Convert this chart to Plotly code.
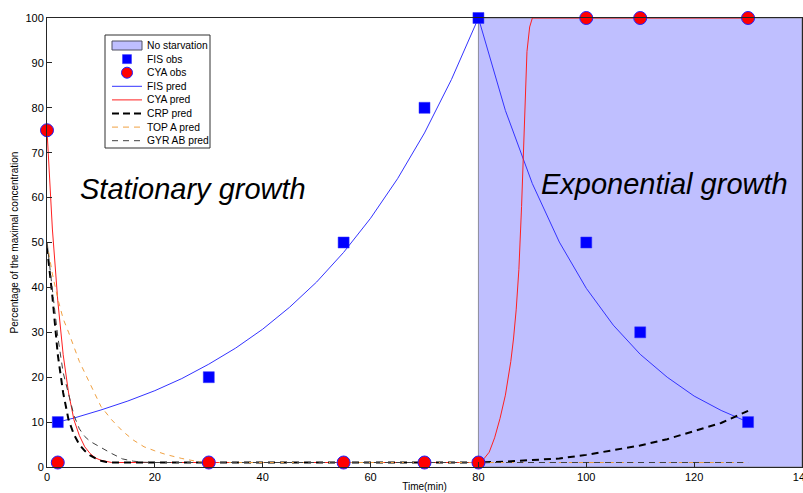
import plotly.graph_objects as go

# ---- data ----
shade_x = [80, 140, 140, 80, 80]
shade_y = [0, 0, 100, 100, 0]

fis_obs_x = [2, 30, 55, 70, 80, 100, 110, 130]
fis_obs_y = [10, 20, 50, 80, 100, 50, 30, 10]

cya_obs_x = [0, 2, 30, 55, 70, 80, 100, 110, 130]
cya_obs_y = [75, 1, 1, 1, 1, 1, 100, 100, 100]

fis_pred_x = [2, 5, 10, 15, 20, 25, 30, 35, 40, 45, 50, 55, 60, 65, 70, 75, 80,
              85, 90, 95, 100, 105, 110, 115, 120, 125, 130]
fis_pred_y = [10, 10.9, 12.7, 14.7, 17.0, 19.7, 22.9, 26.5, 30.7, 35.6, 41.2, 47.8, 55.4, 64.2, 74.4, 86.3, 100,
              79.4, 63.1, 50.1, 39.8, 31.6, 25.1, 20.0, 15.8, 12.6, 10]

cya_pred_x = [0, 1, 2, 3, 4, 5, 6, 7, 8, 9, 10, 12, 80, 81, 82, 83, 84, 85, 86, 86.5, 87,
              87.5, 88, 88.5, 89, 89.5, 90, 130]
cya_pred_y = [75, 53, 37, 25, 16.5, 10.5, 7, 4.5, 3, 2, 1.5, 1.0, 1.0, 1.8, 3.3, 6.5, 10.8, 16, 23.5, 28.5, 35,
              44, 58, 76, 92.5, 98, 100, 100]

crp_pred_x = [0, 1, 2, 3, 4, 5, 6, 7, 8, 9, 10, 11, 12, 80, 85, 90, 95, 100, 105, 110, 115, 120, 125, 130]
crp_pred_y = [49, 38, 25, 16.5, 10.5, 7.2, 5, 3.6, 2.6, 1.9, 1.4, 1.1, 1.0, 1.0, 1.2, 1.5, 1.9, 2.7, 3.7, 4.8, 6.2, 8.0, 9.8, 12.5]

topa_pred_x = [0, 1, 2, 3, 4, 5, 6, 7, 8, 10, 12, 14, 16, 18, 20, 22, 25, 28, 30, 130]
topa_pred_y = [50, 43, 37.5, 33, 30, 26.5, 23.5, 21, 18.5, 13.5, 10.5, 8, 6, 4.5, 3.6, 2.8, 1.9, 1.2, 1.0, 1.0]

gyr_pred_x = [0, 1, 2, 3, 4, 5, 6, 7, 8, 9, 10, 12, 14, 16, 18, 20, 130]
gyr_pred_y = [50, 40, 29, 21, 16, 11.5, 8.5, 6.8, 5.7, 5.0, 4.4, 3.0, 1.8, 1.3, 1.05, 1.0, 1.0]

x_ticks = [0, 20, 40, 60, 80, 100, 120, 140]
y_ticks = [0, 10, 20, 30, 40, 50, 60, 70, 80, 90, 100]

legend_labels = ["No starvation", "FIS obs", "CYA obs", "FIS pred", "CYA pred",
                 "CRP pred", "TOP A pred", "GYR AB pred"]

FONT = "Liberation Sans, Arial, sans-serif"

# styles
C_SHADE = "#bfbfff"
C_SHADE_EDGE = "#8c8c9c"
C_FIS = "#3333ff"
C_CYA = "#ff2020"
C_TOPA = "#f0a040"
C_GYR = "#404040"

fig = go.Figure()

fig.add_trace(go.Scatter(x=shade_x, y=shade_y, fill="toself", fillcolor=C_SHADE,
                         line=dict(color=C_SHADE_EDGE, width=1), mode="lines",
                         name=legend_labels[0], hoverinfo="skip"))
fig.add_trace(go.Scatter(x=fis_pred_x, y=fis_pred_y, mode="lines",
                         line=dict(color=C_FIS, width=1), name=legend_labels[3]))
fig.add_trace(go.Scatter(x=cya_pred_x, y=cya_pred_y, mode="lines",
                         line=dict(color=C_CYA, width=1), name=legend_labels[4]))
fig.add_trace(go.Scatter(x=crp_pred_x, y=crp_pred_y, mode="lines",
                         line=dict(color="black", width=2, dash="7px,5px"), name=legend_labels[5]))
fig.add_trace(go.Scatter(x=topa_pred_x, y=topa_pred_y, mode="lines",
                         line=dict(color=C_TOPA, width=1, dash="5px,5px"), name=legend_labels[6]))
fig.add_trace(go.Scatter(x=gyr_pred_x, y=gyr_pred_y, mode="lines",
                         line=dict(color=C_GYR, width=1, dash="6px,5px"), name=legend_labels[7]))
fig.add_trace(go.Scatter(x=fis_obs_x, y=fis_obs_y, mode="markers", cliponaxis=False,
                         marker=dict(symbol="square", size=11, color="#0000ff",
                                     line=dict(color="#3030ff", width=0.5)),
                         name=legend_labels[1]))
fig.add_trace(go.Scatter(x=cya_obs_x, y=cya_obs_y, mode="markers", cliponaxis=False,
                         marker=dict(symbol="circle", size=13, color="#ff0000",
                                     line=dict(color="#2020ff", width=1)),
                         name=legend_labels[2]))

fig.add_annotation(x=27, y=62, xref="x", yref="y", text="Stationary growth", showarrow=False,
                   font=dict(family=FONT, size=29, color="black", style="italic"))
fig.add_annotation(x=114.5, y=63, xref="x", yref="y", text="Exponential growth", showarrow=False,
                   font=dict(family=FONT, size=29, color="black", style="italic"))

# ---- compact MATLAB-style legend box (layout decoration, paper coordinates) ----
L, T, W, H = 47, 18, 755, 449  # plot area in pixels


def px(v):
    return (v - L) / W


def py(v):
    return (T + H - v) / H


shapes = []
box = (105, 35, 210, 148)
shapes.append(dict(type="rect", xref="paper", yref="paper", x0=px(box[0]), x1=px(box[2]),
                   y0=py(box[3]), y1=py(box[1]), fillcolor="white",
                   line=dict(color="#303030", width=1), layer="above"))
row0, dy = 45.5, 13.6
s0, s1, tx = 112, 142, 145
for i, lab in enumerate(legend_labels):
    cy = row0 + i * dy
    if i == 0:
        shapes.append(dict(type="rect", xref="paper", yref="paper", x0=px(s0), x1=px(s1),
                           y0=py(cy + 4.5), y1=py(cy - 4.5), fillcolor=C_SHADE,
                           line=dict(color="#505060", width=1), layer="above"))
    elif i == 1:
        shapes.append(dict(type="rect", xref="paper", yref="paper", x0=px(122.5), x1=px(131.5),
                           y0=py(cy + 4.5), y1=py(cy - 4.5), fillcolor="#0000ff",
                           line=dict(color="#3030ff", width=0.5), layer="above"))
    elif i == 2:
        shapes.append(dict(type="circle", xref="paper", yref="paper", x0=px(121.5), x1=px(132.5),
                           y0=py(cy + 5.5), y1=py(cy - 5.5), fillcolor="#ff0000",
                           line=dict(color="#2020ff", width=1), layer="above"))
    else:
        styles = {3: (C_FIS, 1, "solid"), 4: (C_CYA, 1, "solid"), 5: ("black", 2, "7px,4px"),
                  6: (C_TOPA, 1, "6px,5px"), 7: (C_GYR, 1, "6px,5px")}
        col, wd, ds = styles[i]
        shapes.append(dict(type="line", xref="paper", yref="paper", x0=px(s0), x1=px(s1),
                           y0=py(cy), y1=py(cy), line=dict(color=col, width=wd, dash=ds),
                           layer="above"))
    fig.add_annotation(x=px(tx), y=py(cy), xref="paper", yref="paper", text=lab,
                       showarrow=False, xanchor="left", yanchor="middle",
                       font=dict(family=FONT, size=10.3, color="black"))

axis_common = dict(showline=True, linecolor="#262626", linewidth=1, mirror=True,
                   ticks="inside", ticklen=5, tickcolor="#262626", showgrid=False,
                   zeroline=False, automargin=False, ticklabeloverflow="allow",
                   tickfont=dict(family=FONT, size=11, color="black"))

fig.update_layout(
    width=803, height=493,
    margin=dict(l=47, r=1, t=18, b=26),
    plot_bgcolor="white", paper_bgcolor="white",
    font=dict(family=FONT, color="black"),
    xaxis=dict(range=[0, 140], tickvals=x_ticks,
               title=dict(text="Time(min)", font=dict(family=FONT, size=10), standoff=0),
               **axis_common),
    yaxis=dict(range=[0, 100], tickvals=y_ticks,
               title=dict(text="Percentage of the maximal concentration", font=dict(family=FONT, size=10), standoff=4),
               **axis_common),
    shapes=shapes,
    showlegend=False,
)

fig.write_html("out.html", config={"displayModeBar": False},
               post_script="document.body.style.margin='0';document.body.style.overflow='hidden';")
